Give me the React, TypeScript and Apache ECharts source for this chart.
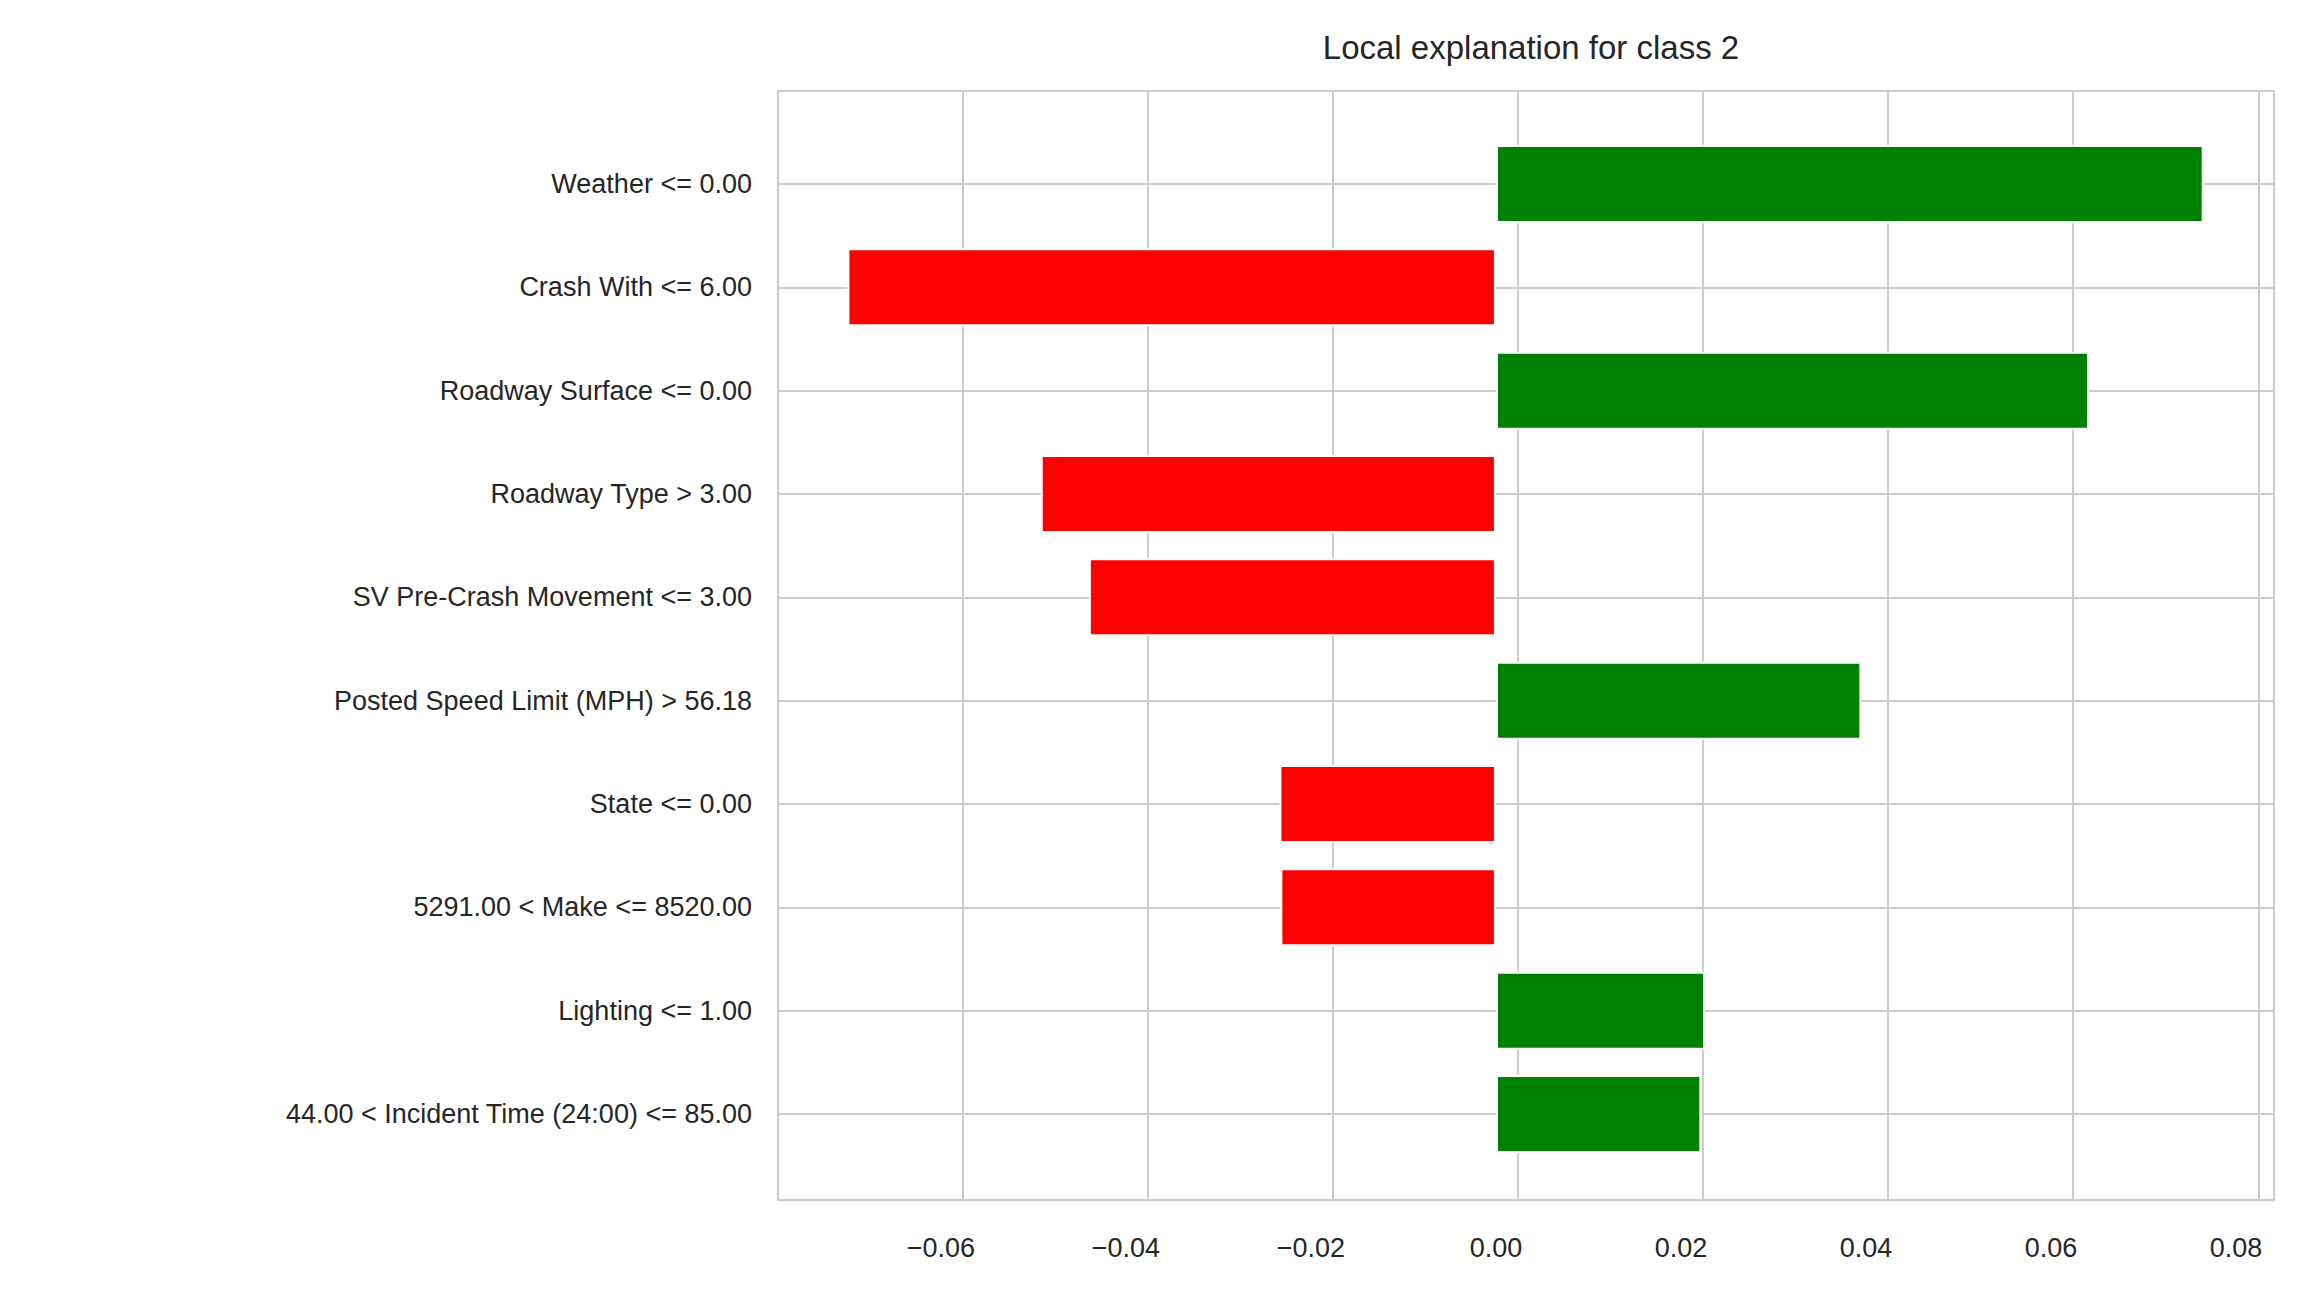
import { useEffect, useRef } from 'react'
import * as echarts from 'echarts'

const features = [
  'Weather <= 0.00',
  'Crash With <= 6.00',
  'Roadway Surface <= 0.00',
  'Roadway Type > 3.00',
  'SV Pre-Crash Movement <= 3.00',
  'Posted Speed Limit (MPH) > 56.18',
  'State <= 0.00',
  '5291.00 < Make <= 8520.00',
  'Lighting <= 1.00',
  '44.00 < Incident Time (24:00) <= 85.00'
]
const weights = [0.0765, -0.0701, 0.0641, -0.0492, -0.044, 0.0395, -0.0234, -0.0233, 0.0226, 0.0222]

const X_MIN = -0.0776
const X_MAX = 0.0841
const FONT = 'Liberation Sans, Arial, sans-serif'

export default function App() {
  const ref = useRef<HTMLDivElement | null>(null)

  useEffect(() => {
    document.body.style.margin = '0'
    if (!ref.current) return
    const chart = echarts.init(ref.current, undefined, { renderer: 'svg' })

    chart.setOption({
      animation: false,
      backgroundColor: '#fff',
      title: {
        text: 'Local explanation for class 2',
        left: 1526,
        textAlign: 'center',
        top: 26,
        textStyle: { fontFamily: FONT, fontSize: 33, fontWeight: 'normal', color: '#262626' }
      },
      grid: [
        { left: 778, right: 25, top: 91, bottom: 97, show: true, borderColor: '#cccccc', borderWidth: 2, z: 0 },
        { left: 778, right: 25, top: 184, bottom: 183 }
      ],
      xAxis: [
        {
          gridIndex: 0,
          type: 'value',
          min: X_MIN,
          max: X_MAX,
          interval: 0.02,
          axisLine: { show: false },
          axisTick: { show: false },
          axisLabel: {
            margin: 34,
            fontFamily: FONT,
            fontSize: 27,
            color: '#262626',
            customValues: [-0.06, -0.04, -0.02, 0, 0.02, 0.04, 0.06, 0.08],
            formatter: (v: number) => v.toFixed(2).replace('-', '\u2212')
          },
          splitLine: { show: true, lineStyle: { color: '#cccccc', width: 2 } }
        },
        {
          gridIndex: 1,
          type: 'value',
          min: X_MIN,
          max: X_MAX,
          show: false
        }
      ],
      yAxis: [
        { gridIndex: 0, type: 'value', show: false },
        {
          gridIndex: 1,
          type: 'category',
          inverse: true,
          boundaryGap: false,
          data: features,
          axisLine: { show: false },
          axisTick: { show: false },
          axisLabel: { margin: 26, fontFamily: FONT, fontSize: 27, color: '#262626' },
          splitLine: { show: true, lineStyle: { color: '#cccccc', width: 2 } }
        }
      ],
      series: [
        {
          type: 'bar',
          xAxisIndex: 1,
          yAxisIndex: 1,
          barWidth: 78,
          clip: false,
          data: weights.map((v) => ({
            value: v,
            itemStyle: { color: v > 0 ? '#008000' : '#ff0000', borderColor: '#ffffff', borderWidth: 2 }
          }))
        }
      ]
    })

    return () => chart.dispose()
  }, [])

  return <div ref={ref} style={{ width: 2299, height: 1297 }} />
}
